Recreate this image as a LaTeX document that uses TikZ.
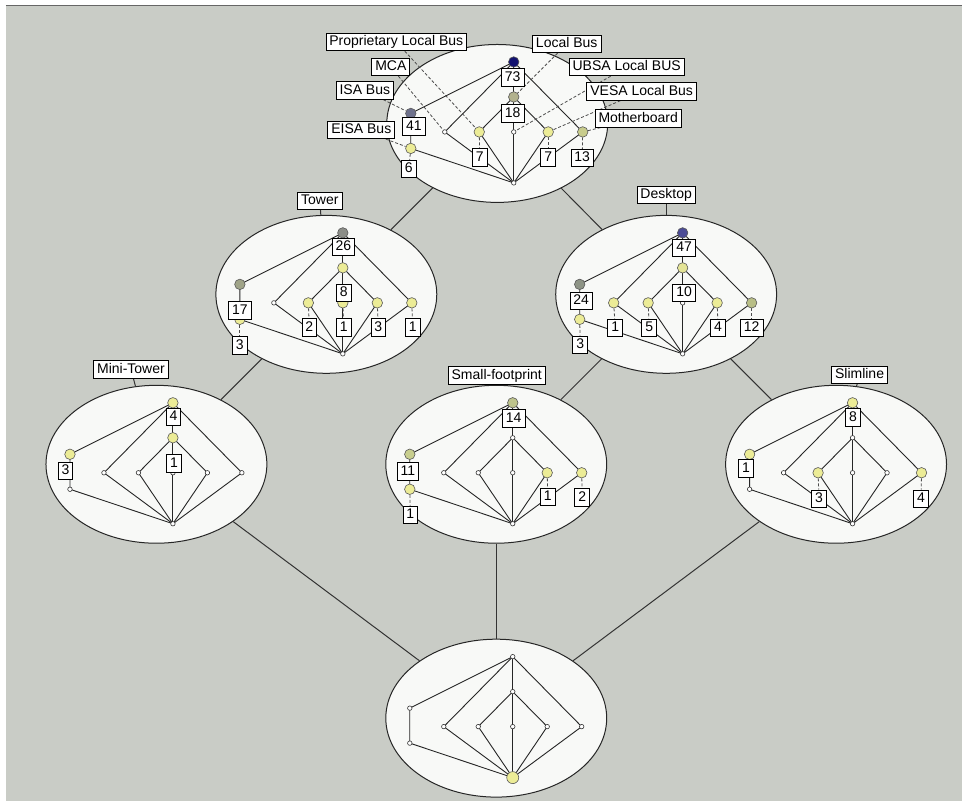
\documentclass[tikz,border=0pt]{standalone}
\usepackage{fontspec}
\setmainfont{Liberation Sans}
\usetikzlibrary{shapes.geometric}

\definecolor{panel}{RGB}{201,204,198}
\definecolor{ellfill}{RGB}{248,249,247}
\definecolor{c73}{RGB}{18,18,112}
\definecolor{c47}{RGB}{76,76,150}
\definecolor{c41}{RGB}{110,113,140}
\definecolor{c26}{RGB}{140,142,136}
\definecolor{c24}{RGB}{142,148,134}
\definecolor{c18}{RGB}{178,178,142}
\definecolor{c17}{RGB}{160,164,136}
\definecolor{c14}{RGB}{190,196,140}
\definecolor{c13}{RGB}{200,204,140}
\definecolor{c12}{RGB}{184,190,134}
\definecolor{c11}{RGB}{200,206,142}
\definecolor{c10}{RGB}{228,228,150}
\definecolor{cyel}{RGB}{236,236,150}

\pgfdeclarelayer{back}
\pgfdeclarelayer{mid}
\pgfsetlayers{back,mid,main}

% lattice points of one nested line diagram, #1 prefix, (#2,#3) top element
\newcommand\lattpts[3]{%
  \coordinate (#1T)  at (#2,#3);
  \coordinate (#1M)  at (#2,#3+35);
  \coordinate (#1La) at (#2-103,#3+51.5);
  \coordinate (#1Lb) at (#2-103,#3+86.5);
  \coordinate (#1Ra) at (#2-69,#3+70);
  \coordinate (#1Rb) at (#2-34.5,#3+70);
  \coordinate (#1Rc) at (#2,#3+70);
  \coordinate (#1Rd) at (#2+34.5,#3+70);
  \coordinate (#1Re) at (#2+69,#3+70);
  \coordinate (#1B)  at (#2,#3+121);
  \coordinate (#1C)  at (#2-16.5,#3+61.5);
}
% lines of one inner diagram
\newcommand\lattedges[1]{%
  \draw[edge] (#1T) -- (#1La) -- (#1Lb) -- (#1B);
  \draw[edge] (#1T) -- (#1Ra) -- (#1B);
  \draw[edge] (#1T) -- (#1M) -- (#1Rc) -- (#1B);
  \draw[edge] (#1T) -- (#1Re) -- (#1B);
  \draw[edge] (#1M) -- (#1Rb) -- (#1B);
  \draw[edge] (#1M) -- (#1Rd) -- (#1B);
}

\tikzset{
  edge/.style={draw=black!85, line width=0.9pt},
  conn/.style={draw=black!80, line width=1pt},
  lead/.style={draw=black!70, dash pattern=on 3pt off 2pt, line width=0.8pt},
  objnode/.style={circle, draw=black!65, line width=0.6pt, minimum size=10.5pt, inner sep=0pt},
  dotn/.style={circle, draw=black!80, fill=white, line width=0.6pt, minimum size=4.5pt, inner sep=0pt},
  lbox/.style={draw=black, fill=white, line width=0.8pt, inner xsep=3.5pt, inner ysep=2.5pt,
    text height=10pt, text depth=2.5pt, font=\fontsize{14}{16}\selectfont},
  lattell/.style={ellipse, draw=black!85, fill=ellfill, line width=1pt,
    minimum width=221pt, minimum height=158pt, inner sep=0pt},
}

\begin{document}
\begin{tikzpicture}[x=1pt,y=-1pt]
\lattpts{top}{514}{62}
\lattpts{tower}{343}{233}
\lattpts{desk}{683}{233}
\lattpts{mini}{173}{403}
\lattpts{small}{513}{403}
\lattpts{slim}{853}{403}
\lattpts{bot}{513}{657}

\begin{pgfonlayer}{back}
  \fill[white] (0,0) rectangle (962,801);
  \fill[panel] (6,5) rectangle (962,801);
  \draw[black!60, line width=1pt] (6,5.5) -- (962,5.5);
  \node[lattell] (topE) at (topC) {};
  \node[lattell] (towerE) at (towerC) {};
  \node[lattell] (deskE) at (deskC) {};
  \node[lattell] (miniE) at (miniC) {};
  \node[lattell] (smallE) at (smallC) {};
  \node[lattell] (slimE) at (slimC) {};
  \node[lattell] (botE) at (botC) {};
  \draw[conn] (topE) -- (towerE);
  \draw[conn] (topE) -- (deskE);
  \draw[conn] (towerE) -- (miniE);
  \draw[conn] (deskE) -- (smallE);
  \draw[conn] (deskE) -- (slimE);
  \draw[conn] (miniE) -- (botE);
  \draw[conn] (smallE) -- (botE);
  \draw[conn] (slimE) -- (botE);
\end{pgfonlayer}

\begin{pgfonlayer}{mid}
  \lattedges{top}
  \lattedges{tower}
  \lattedges{desk}
  \lattedges{mini}
  \lattedges{small}
  \lattedges{slim}
  \lattedges{bot}
\end{pgfonlayer}

% ---- Motherboard level
\node[objnode,fill=c73] (topTn) at (topT) {};
\node[objnode,fill=c18] (topMn) at (topM) {};
\node[objnode,fill=c41] (topLan) at (topLa) {};
\node[objnode,fill=cyel] (topLbn) at (topLb) {};
\node[dotn] (topRan) at (topRa) {};
\node[objnode,fill=cyel] (topRbn) at (topRb) {};
\node[dotn] (topRcn) at (topRc) {};
\node[objnode,fill=cyel] (topRdn) at (topRd) {};
\node[objnode,fill=c13] (topRen) at (topRe) {};
\node[dotn] (topBn) at (topB) {};

% ---- Tower
\node[objnode,fill=c26] (towerTn) at (towerT) {};
\node[objnode,fill=cyel] (towerMn) at (towerM) {};
\node[objnode,fill=c17] (towerLan) at (towerLa) {};
\node[objnode,fill=cyel] (towerLbn) at (towerLb) {};
\node[dotn] (towerRan) at (towerRa) {};
\node[objnode,fill=cyel] (towerRbn) at (towerRb) {};
\node[objnode,fill=cyel] (towerRcn) at (towerRc) {};
\node[objnode,fill=cyel] (towerRdn) at (towerRd) {};
\node[objnode,fill=cyel] (towerRen) at (towerRe) {};
\node[dotn] (towerBn) at (towerB) {};

% ---- Desktop
\node[objnode,fill=c47] (deskTn) at (deskT) {};
\node[objnode,fill=c10] (deskMn) at (deskM) {};
\node[objnode,fill=c24] (deskLan) at (deskLa) {};
\node[objnode,fill=cyel] (deskLbn) at (deskLb) {};
\node[objnode,fill=cyel] (deskRan) at (deskRa) {};
\node[objnode,fill=cyel] (deskRbn) at (deskRb) {};
\node[dotn] (deskRcn) at (deskRc) {};
\node[objnode,fill=cyel] (deskRdn) at (deskRd) {};
\node[objnode,fill=c12] (deskRen) at (deskRe) {};
\node[dotn] (deskBn) at (deskB) {};

% ---- Mini-Tower
\node[objnode,fill=cyel] (miniTn) at (miniT) {};
\node[objnode,fill=cyel] (miniMn) at (miniM) {};
\node[objnode,fill=cyel] (miniLan) at (miniLa) {};
\node[dotn] (miniLbn) at (miniLb) {};
\node[dotn] (miniRan) at (miniRa) {};
\node[dotn] (miniRbn) at (miniRb) {};
\node[dotn] (miniRcn) at (miniRc) {};
\node[dotn] (miniRdn) at (miniRd) {};
\node[dotn] (miniRen) at (miniRe) {};
\node[dotn] (miniBn) at (miniB) {};

% ---- Small-footprint
\node[objnode,fill=c14] (smallTn) at (smallT) {};
\node[dotn] (smallMn) at (smallM) {};
\node[objnode,fill=c11] (smallLan) at (smallLa) {};
\node[objnode,fill=cyel] (smallLbn) at (smallLb) {};
\node[dotn] (smallRan) at (smallRa) {};
\node[dotn] (smallRbn) at (smallRb) {};
\node[dotn] (smallRcn) at (smallRc) {};
\node[objnode,fill=cyel] (smallRdn) at (smallRd) {};
\node[objnode,fill=cyel] (smallRen) at (smallRe) {};
\node[dotn] (smallBn) at (smallB) {};

% ---- Slimline
\node[objnode,fill=cyel] (slimTn) at (slimT) {};
\node[dotn] (slimMn) at (slimM) {};
\node[objnode,fill=cyel] (slimLan) at (slimLa) {};
\node[dotn] (slimLbn) at (slimLb) {};
\node[dotn] (slimRan) at (slimRa) {};
\node[objnode,fill=cyel] (slimRbn) at (slimRb) {};
\node[dotn] (slimRcn) at (slimRc) {};
\node[dotn] (slimRdn) at (slimRd) {};
\node[objnode,fill=cyel] (slimRen) at (slimRe) {};
\node[dotn] (slimBn) at (slimB) {};

% ---- bottom
\node[dotn] (botTn) at (botT) {};
\node[dotn] (botMn) at (botM) {};
\node[dotn] (botLan) at (botLa) {};
\node[dotn] (botLbn) at (botLb) {};
\node[dotn] (botRan) at (botRa) {};
\node[dotn] (botRbn) at (botRb) {};
\node[dotn] (botRcn) at (botRc) {};
\node[dotn] (botRdn) at (botRd) {};
\node[dotn] (botRen) at (botRe) {};
\node[objnode,fill=cyel,minimum size=12pt] (botBn) at (botB) {};

% ---- object counts
\node[lbox] (topTl) at (513,77.5) {73};
\node[lbox] (topMl) at (513,113.5) {18};
\node[lbox] (topLal) at (414,126.5) {41};
\node[lbox] (topLbl) at (409,169) {6};
\node[lbox] (topRbl) at (480,157.5) {7};
\node[lbox] (topRdl) at (548.5,157.5) {7};
\node[lbox] (topRel) at (582.5,158) {13};

\node[lbox] (towerTl) at (343.5,247) {26};
\node[lbox] (towerMl) at (344,293) {8};
\node[lbox] (towerLal) at (240,310.5) {17};
\node[lbox] (towerLbl) at (240,345.5) {3};
\node[lbox] (towerRbl) at (309.5,327.5) {2};
\node[lbox] (towerRcl) at (344,327.5) {1};
\node[lbox] (towerRdl) at (378.5,327.5) {3};
\node[lbox] (towerRel) at (413,327.5) {1};

\node[lbox] (deskTl) at (684.5,248) {47};
\node[lbox] (deskMl) at (684.5,293) {10};
\node[lbox] (deskLal) at (581.5,301) {24};
\node[lbox] (deskLbl) at (580.5,345) {3};
\node[lbox] (deskRal) at (615.5,328) {1};
\node[lbox] (deskRbl) at (649.5,328) {5};
\node[lbox] (deskRdl) at (718.5,328) {4};
\node[lbox] (deskRel) at (752,328) {12};

\node[lbox] (miniTl) at (173.5,417) {4};
\node[lbox] (miniMl) at (174,463.5) {1};
\node[lbox] (miniLal) at (65.5,471) {3};

\node[lbox] (smallTl) at (514,418.5) {14};
\node[lbox] (smallLal) at (408,471.5) {11};
\node[lbox] (smallLbl) at (410.5,515) {1};
\node[lbox] (smallRdl) at (548,497) {1};
\node[lbox] (smallRel) at (582.5,497.5) {2};

\node[lbox] (slimTl) at (853.5,417.5) {8};
\node[lbox] (slimLal) at (746.5,468.5) {1};
\node[lbox] (slimRbl) at (819.5,499) {3};
\node[lbox] (slimRel) at (921.5,499) {4};

% ---- attribute names of the motherboard level
\node[lbox] (aPLB) at (396.5,42) {Proprietary Local Bus};
\node[lbox] (aMCA) at (391,67) {MCA};
\node[lbox] (aISA) at (365,90.5) {ISA Bus};
\node[lbox] (aEISA) at (361.5,130) {EISA Bus};
\node[lbox] (aLB) at (567,44) {Local Bus};
\node[lbox] (aUBSA) at (627,67) {UBSA Local BUS};
\node[lbox] (aVESA) at (642,91.5) {VESA Local Bus};
\node[lbox] (aMB) at (638.5,118.5) {Motherboard};

% ---- attribute names of the outer levels
\node[lbox] (aTower) at (320,201) {Tower};
\node[lbox] (aDesk) at (666.5,195) {Desktop};
\node[lbox] (aMini) at (131,369.5) {Mini-Tower};
\node[lbox] (aSmall) at (497,375.5) {Small-footprint};
\node[lbox] (aSlim) at (860,375) {Slimline};

\begin{pgfonlayer}{mid}
  % name leaders
  \draw[lead] (aPLB) -- (topRbn);
  \draw[lead] (aMCA) -- (topRan);
  \draw[lead] (aISA) -- (topLan);
  \draw[lead] (aEISA) -- (topLbn);
  \draw[lead] (aLB) -- (topMn);
  \draw[lead] (aUBSA) -- (topRcn);
  \draw[lead] (aVESA) -- (topRdn);
  \draw[lead] (aMB) -- (topRen);
  \draw[conn] (aTower) -- (towerE);
  \draw[conn] (aDesk) -- (deskE);
  \draw[conn] (aMini) -- (miniE);
  \draw[conn] (aSmall) -- (smallE);
  \draw[conn] (aSlim) -- (slimE);
  % count leaders
  \foreach \p in {topLb,topRb,topRd,topRe,towerLb,towerRb,towerRc,towerRd,towerRe,
                  deskLb,deskRa,deskRb,deskRd,deskRe,smallLb,smallRd,smallRe,
                  slimRb,slimRe}
    {\draw[lead] (\p n) -- (\p l);}
\end{pgfonlayer}
\end{tikzpicture}
\end{document}
